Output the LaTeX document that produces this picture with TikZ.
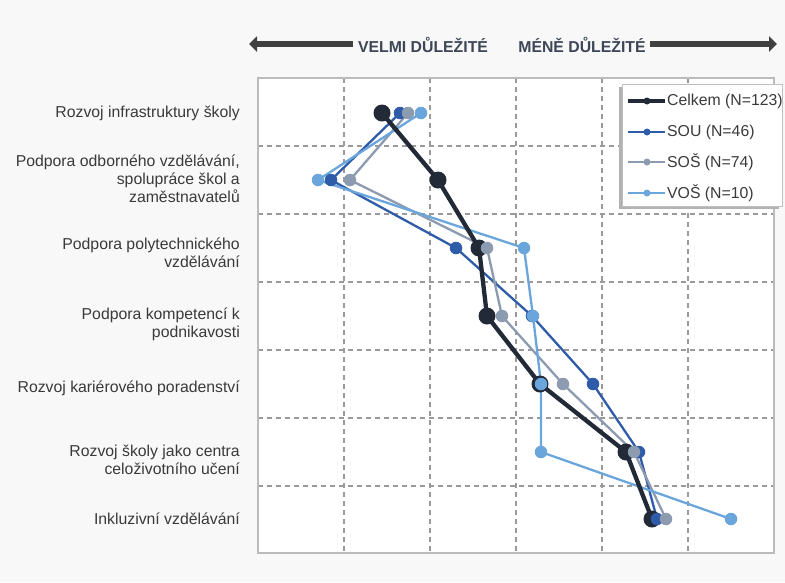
\documentclass[tikz,border=0pt]{standalone}
\usepackage{fontspec}
\setmainfont{Liberation Sans}
\usetikzlibrary{arrows.meta}
\definecolor{bgc}{HTML}{F8F8F8}
\definecolor{framec}{HTML}{BBBBBB}
\definecolor{gridc}{HTML}{9A9A9A}
\definecolor{celkc}{HTML}{222A38}
\definecolor{souc}{HTML}{2F5CA8}
\definecolor{sosc}{HTML}{8C9BB0}
\definecolor{vosc}{HTML}{6AA6DC}
\definecolor{labc}{HTML}{3A3A3A}
\definecolor{headc}{HTML}{3C4656}
\definecolor{arrc}{HTML}{404040}
\tikzset{
  lab/.style={anchor=east, align=right, text=labc, font=\fontsize{15.8}{18}\selectfont, inner sep=0pt},
  head/.style={text=headc, font=\fontsize{15.8}{18}\selectfont\bfseries, inner sep=0pt},
  gridline/.style={draw=gridc, line width=1.2pt, dash pattern=on 5pt off 4pt},
  bigarrow/.style={draw=arrc, line width=6pt, -{Triangle[length=8pt,width=15pt]}},
  celkline/.style={draw=celkc, line width=4.3pt, line join=round},
  souline/.style={draw=souc, line width=2.3pt, line join=round},
  sosline/.style={draw=sosc, line width=2.3pt, line join=round},
  vosline/.style={draw=vosc, line width=2.3pt, line join=round},
  celkdot/.style={circle, fill=celkc, minimum size=17pt, inner sep=0pt},
  soudot/.style={circle, fill=souc, minimum size=12.5pt, inner sep=0pt},
  sosdot/.style={circle, fill=sosc, minimum size=12.5pt, inner sep=0pt},
  vosdot/.style={circle, fill=vosc, minimum size=12.5pt, inner sep=0pt},
  legtext/.style={anchor=west, text=labc, font=\fontsize{15.8}{18}\selectfont, inner sep=0pt},
  legdot/.style={circle, minimum size=7pt, inner sep=0pt},
}
\begin{document}
\begin{tikzpicture}[x=1pt, y=-1pt]
\fill[bgc] (0,0) rectangle (785,582);
\useasboundingbox (0,0) rectangle (785,582);
% plot area
\fill[white] (258,78) rectangle (774,553);
\foreach \gx in {344,430,516,602,688} \draw[gridline] (\gx,78) -- (\gx,553);
\foreach \gy in {146,214,282,350,418,486} \draw[gridline] (258,\gy) -- (774,\gy);
\draw[framec, line width=1.6pt] (258,78) rectangle (774,553);
% header arrows
\coordinate (la1) at (353,44); \coordinate (la2) at (249,44);
\coordinate (ra1) at (650,44); \coordinate (ra2) at (777,44);
\draw[bigarrow] (la1) -- (la2);
\draw[bigarrow] (ra1) -- (ra2);
\node[head] (h1) at (423,45) {VELMI DŮLEŽITÉ};
\node[head] (h2) at (582,45) {MÉNĚ DŮLEŽITÉ};
% labels
\node[lab] (l1) at (240,113) {Rozvoj infrastruktury školy};
\node[lab] (l2) at (240,179) {Podpora odborného vzdělávání,\\spolupráce škol a\\zaměstnavatelů};
\node[lab] (l3) at (240,253) {Podpora polytechnického\\vzdělávání};
\node[lab] (l4) at (240,324) {Podpora kompetencí k\\podnikavosti};
\node[lab] (l5) at (240,388) {Rozvoj kariérového poradenství};
\node[lab] (l6) at (240,460) {Rozvoj školy jako centra\\celoživotního učení};
\node[lab] (l7) at (240,519) {Inkluzivní vzdělávání};
% data coordinates
\coordinate (c1) at (382,113); \coordinate (c2) at (438,180); \coordinate (c3) at (479,248);
\coordinate (c4) at (487,316); \coordinate (c5) at (540,384); \coordinate (c6) at (626,452);
\coordinate (c7) at (652,519);
\coordinate (s1) at (400,113); \coordinate (s2) at (331,180); \coordinate (s3) at (456,248);
\coordinate (s4) at (532,316); \coordinate (s5) at (593,384); \coordinate (s6) at (639,452);
\coordinate (s7) at (657,519);
\coordinate (o1) at (408,113); \coordinate (o2) at (350,180); \coordinate (o3) at (487,248);
\coordinate (o4) at (502,316); \coordinate (o5) at (563,384); \coordinate (o6) at (634,452);
\coordinate (o7) at (666,519);
\coordinate (v1) at (421,113); \coordinate (v2) at (318,180); \coordinate (v3) at (524,248);
\coordinate (v4) at (533,316); \coordinate (v5) at (541,384); \coordinate (v6) at (541,452);
\coordinate (v7) at (731,519);
% lines
\draw[souline] (s1) -- (s2) -- (s3) -- (s4) -- (s5) -- (s6) -- (s7);
\draw[sosline] (o1) -- (o2) -- (o3) -- (o4) -- (o5) -- (o6) -- (o7);
\draw[vosline] (v1) -- (v2) -- (v3) -- (v4) -- (v5) -- (v6) -- (v7);
\draw[celkline] (c1) -- (c2) -- (c3) -- (c4) -- (c5) -- (c6) -- (c7);
% markers
\foreach \i in {1,...,7} \node[celkdot] (cm\i) at (c\i) {};
\foreach \i in {1,...,7} \node[soudot] (sm\i) at (s\i) {};
\foreach \i in {1,...,7} \node[vosdot] (vm\i) at (v\i) {};
\foreach \i in {1,...,7} \node[sosdot] (om\i) at (o\i) {};
% legend
\fill[black!30] (619,87) rectangle (779,209);
\fill[white] (622,84) rectangle (782,206);
\draw[black!25, line width=0.8pt] (622,84) rectangle (782,206);
\coordinate (g1a) at (628,101); \coordinate (g1b) at (665,101);
\coordinate (g2a) at (628,132); \coordinate (g2b) at (665,132);
\coordinate (g3a) at (628,162); \coordinate (g3b) at (665,162);
\coordinate (g4a) at (628,193); \coordinate (g4b) at (665,193);
\draw[celkline, line width=3.5pt] (g1a) -- (g1b);
\draw[souline] (g2a) -- (g2b);
\draw[sosline] (g3a) -- (g3b);
\draw[vosline] (g4a) -- (g4b);
\node[legdot, fill=celkc] (gd1) at (647,101) {};
\node[legdot, fill=souc] (gd2) at (647,132) {};
\node[legdot, fill=sosc] (gd3) at (647,162) {};
\node[legdot, fill=vosc] (gd4) at (647,193) {};
\node[legtext] (gt1) at (667,101) {Celkem (N=123)};
\node[legtext] (gt2) at (667,132) {SOU (N=46)};
\node[legtext] (gt3) at (667,162) {SOŠ (N=74)};
\node[legtext] (gt4) at (667,193) {VOŠ (N=10)};
\end{tikzpicture}
\end{document}
